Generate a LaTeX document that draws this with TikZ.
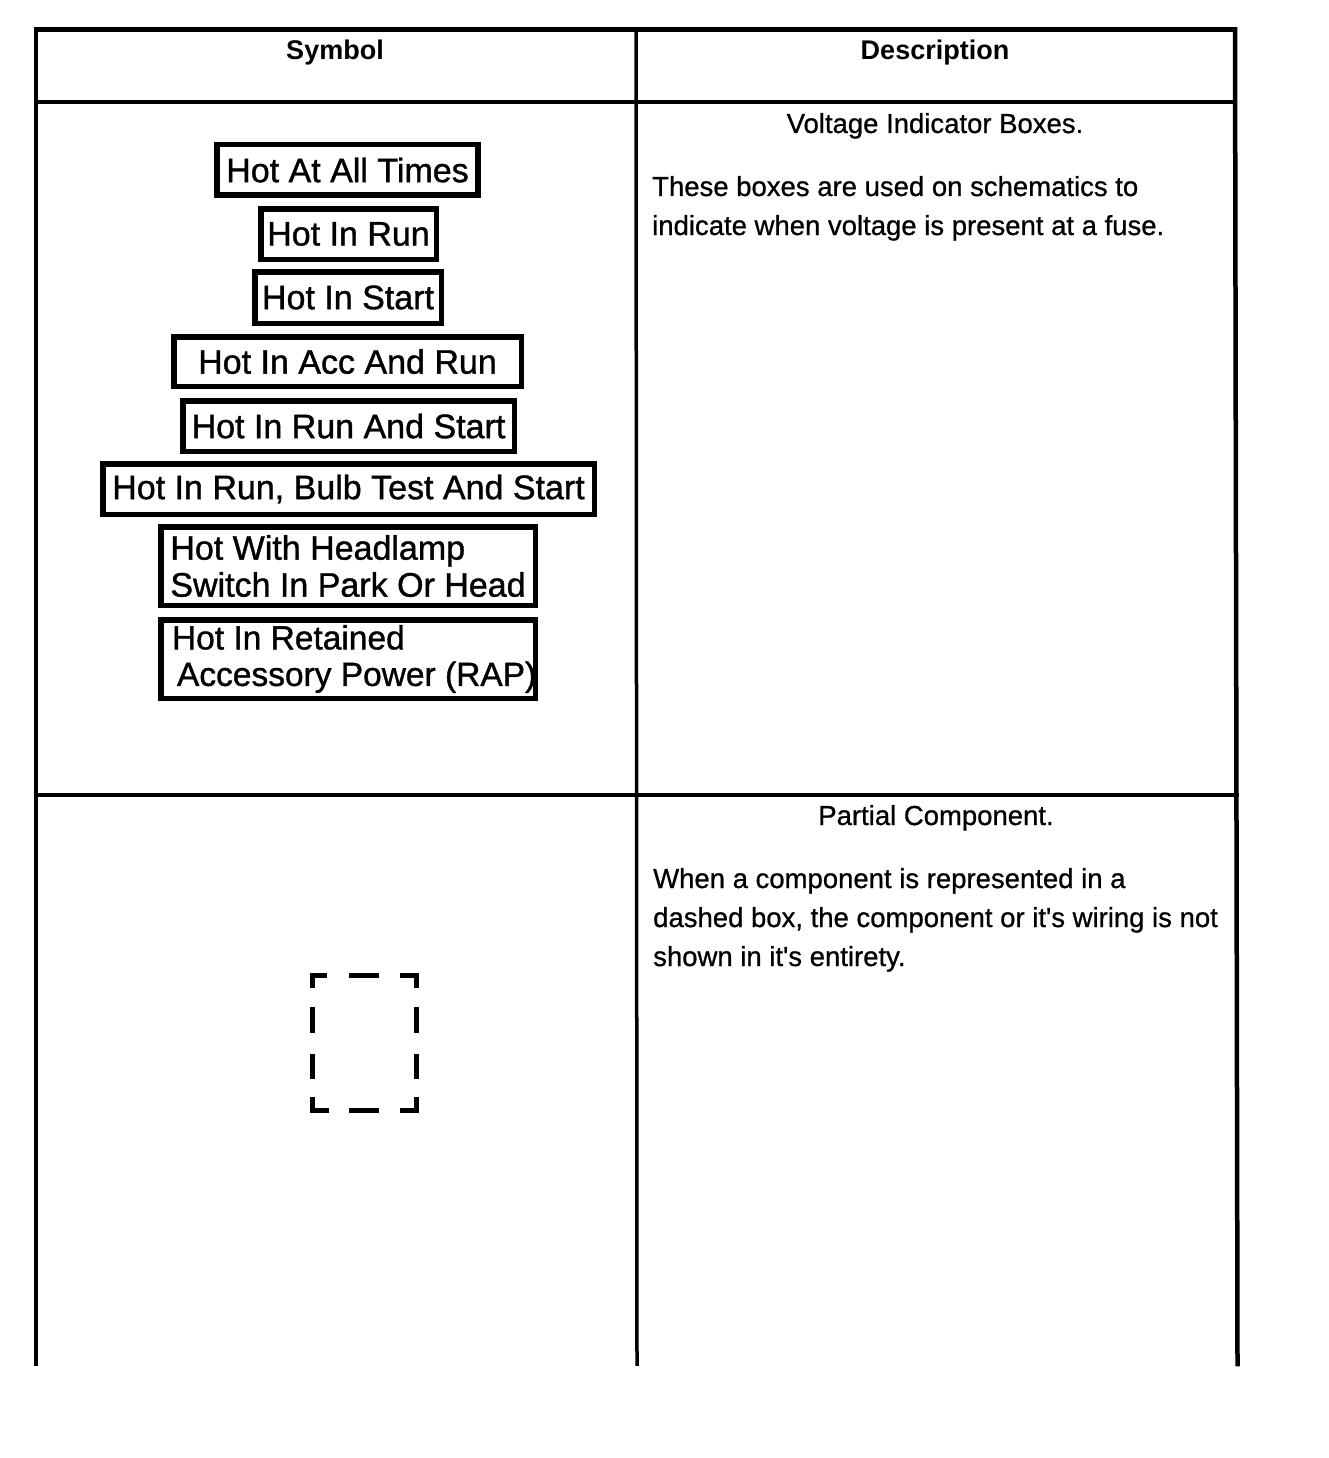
\documentclass[tikz,border=0pt]{standalone}
\usepackage{fontspec}
\setmainfont{Liberation Sans}
\newfontfamily\heavy{Liberation Sans}[FakeBold=0.8]
\newfontfamily\heavier{Liberation Sans}[FakeBold=1.1]
\newcommand\myapos{{\char"27}}
\begin{document}
\begin{tikzpicture}[x=1pt,y=-1pt,
  rule/.style={line width=3.5pt, line cap=rect},
  frame/.style={line width=4.5pt, line cap=rect},
  hdr/.style={font=\fontsize{27}{30}\bfseries\selectfont, inner sep=0pt, anchor=base},
  body/.style={font=\heavy\fontsize{27.5}{30}\selectfont, inner sep=0pt},
  vbox/.style={draw, line width=5.5pt, inner sep=0pt, font=\heavier\fontsize{34}{37}\selectfont, align=left},
  dashseg/.style={line width=5pt, line join=miter, line cap=butt}]
\useasboundingbox (0,0) rectangle (1328,1458);

% table frame and rules
\draw[frame] (36,29.5) -- (1235,29.5);
\draw[frame] (36,29.5) -- (36,1364);
\draw[frame] (1235,29.5) -- (1237.5,1364);
\draw[rule] (636,29.5) -- (637,1364);
\draw[rule] (36,102) -- (1235,102);
\draw[rule] (36,795) -- (1237,795);

% headers
\node[hdr] (hsym) at (335,60) {Symbol};
\node[hdr] (hdesc) at (935,60) {Description};

% row 1 description
\node[body, anchor=base] (t1) at (935,133) {Voltage Indicator Boxes.};
\node[body, anchor=base west] (p1a) at (652,196) {These boxes are used on schematics to};
\node[body, anchor=base west] (p1b) at (652,235) {indicate when voltage is present at a fuse.};

% voltage indicator boxes
\node[vbox, minimum width=261pt, minimum height=50.5pt] (b1) at (347.5,170) {Hot At All Times};
\node[vbox, minimum width=175.5pt, minimum height=50.5pt] (b2) at (348.5,234) {Hot In Run};
\node[vbox, minimum width=186.5pt, minimum height=51.5pt] (b3) at (348,297.5) {Hot In Start};
\node[vbox, minimum width=347.5pt, minimum height=49.5pt] (b4) at (347.5,361.5) {Hot In Acc And Run};
\node[vbox, minimum width=331.5pt, minimum height=50.5pt] (b5) at (348.5,426) {Hot In Run And Start};
\node[vbox, minimum width=491.5pt, minimum height=50.5pt] (b6) at (348.5,489) {Hot In Run, Bulb Test And Start};
\node[vbox, minimum width=374.5pt, minimum height=78.5pt] (b7) at (348,566) {Hot With Headlamp\\Switch In Park Or Head};
\node[vbox, minimum width=374.5pt, minimum height=78.5pt, font=\heavier\fontsize{33.5}{36.5}\selectfont] (b8) at (348,659)
  {\makebox[352pt][l]{Hot In Retained}\\\makebox[352pt][l]{\hspace*{5pt}Accessory Power (RAP)}};

% row 2 description
\node[body, anchor=base] (t2) at (936,825) {Partial Component.};
\node[body, anchor=base west] (p2a) at (653,888) {When a component is represented in a};
\node[body, anchor=base west] (p2b) at (653,927) {dashed box, the component or it\myapos s wiring is not};
\node[body, anchor=base west] (p2c) at (653,966) {shown in it\myapos s entirety.};

% partial component dashed box
\draw[dashseg] (312.5,988) -- (312.5,975.5) -- (327,975.5);
\draw[dashseg] (349,975.5) -- (379,975.5);
\draw[dashseg] (400,975.5) -- (416.5,975.5) -- (416.5,988);
\draw[dashseg] (312.5,1007) -- (312.5,1033);
\draw[dashseg] (312.5,1054) -- (312.5,1079);
\draw[dashseg] (416.5,1007) -- (416.5,1033);
\draw[dashseg] (416.5,1054) -- (416.5,1079);
\draw[dashseg] (312.5,1097) -- (312.5,1110.5) -- (329,1110.5);
\draw[dashseg] (349,1110.5) -- (379,1110.5);
\draw[dashseg] (400,1110.5) -- (416.5,1110.5) -- (416.5,1097);
\end{tikzpicture}
\end{document}
